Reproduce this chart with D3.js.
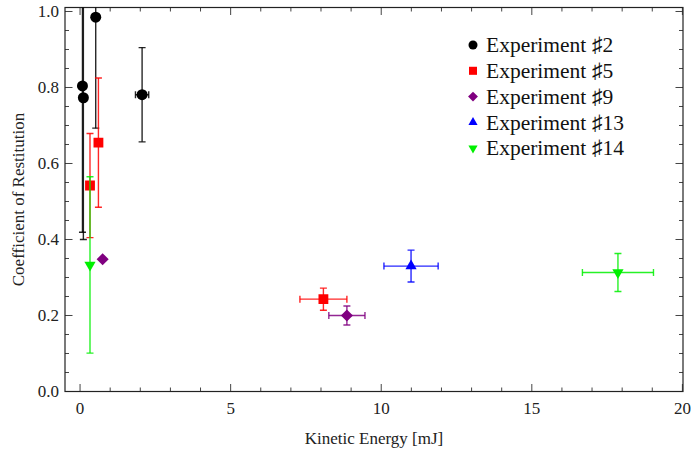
<!DOCTYPE html>
<meta charset="utf-8">
<style>
  body { margin: 0; background: #fff; }
</style>
<body>
<svg width="693" height="449"></svg>

<script src="https://cdn.jsdelivr.net/npm/d3@7"></script>
<script>

// data: [kinetic energy, restitution, error in x, error in y]
var exp2  = [[0.08, 0.804, 0, 0.385], [0.11, 0.773, 0, 0.373], [0.52, 0.985, 0, 0.292], [2.06, 0.781, 0.22, 0.124]];
var exp5  = [[0.33, 0.542, 0, 0.137], [0.61, 0.655, 0, 0.170], [8.08, 0.243, 0.78, 0.029]];
var exp9  = [[0.75, 0.348, 0, 0], [8.86, 0.200, 0.60, 0.025]];
var exp13 = [[10.99, 0.330, 0.90, 0.042]];
var exp14 = [[0.33, 0.333, 0, 0.232], [17.86, 0.313, 1.18, 0.050]];

var seriesNames = ["Experiment \u266F2", "Experiment \u266F5", "Experiment \u266F9", "Experiment \u266F13", "Experiment \u266F14"];
var xTicks = [0, 5, 10, 15, 20];
var yTicks = [0, 0.2, 0.4, 0.6, 0.8, 1.0];

var series = [
  {name: seriesNames[0], data: exp2,  color: "#000000", shape: "circle"},
  {name: seriesNames[1], data: exp5,  color: "#ff0000", shape: "square"},
  {name: seriesNames[2], data: exp9,  color: "#800080", shape: "diamond"},
  {name: seriesNames[3], data: exp13, color: "#0000ff", shape: "up"},
  {name: seriesNames[4], data: exp14, color: "#00f000", shape: "down"}
];

var FONT = "'Liberation Serif', 'Times New Roman', serif";

var svg = d3.select("svg"),
    margin = {top: 7.5, right: 10, bottom: 57.5, left: 65},
    width  = +svg.attr("width") - margin.left - margin.right,
    height = +svg.attr("height") - margin.top - margin.bottom;

var x = d3.scaleLinear().domain([-0.5, 20.02]).range([0, width]),
    y = d3.scaleLinear().domain([0, 1.0105]).range([height, 0]);

var g = svg.append("g")
    .attr("transform", "translate(" + margin.left + "," + margin.top + ")");

svg.append("defs").append("clipPath")
    .attr("id", "clip")
  .append("rect")
    .attr("width", width)
    .attr("height", height);

// frame ticks (inward), minor every 1 / 0.05
var xMinor = d3.range(0, 20.01, 1),
    yMinor = d3.range(0, 1.001, 0.05);

function isMajorX(v) { return Math.abs(v % 5) < 1e-6; }
function isMajorY(v) { return Math.abs(Math.round(v * 100) % 20) < 1e-6; }

var ticks = g.append("g").attr("stroke", "#444").attr("stroke-width", 1);

xMinor.forEach(function(v) {
  var len = isMajorX(v) ? 7.5 : 4;
  ticks.append("line").attr("x1", x(v)).attr("x2", x(v)).attr("y1", height).attr("y2", height - len);
  ticks.append("line").attr("x1", x(v)).attr("x2", x(v)).attr("y1", 0).attr("y2", len);
});
yMinor.forEach(function(v) {
  var len = isMajorY(v) ? 7.5 : 4;
  ticks.append("line").attr("y1", y(v)).attr("y2", y(v)).attr("x1", 0).attr("x2", len);
  ticks.append("line").attr("y1", y(v)).attr("y2", y(v)).attr("x1", width).attr("x2", width - len);
});

// tick labels
g.selectAll(".xlab")
  .data(xTicks)
  .enter().append("text")
    .attr("x", function(d) { return x(d); })
    .attr("y", height + 22)
    .attr("text-anchor", "middle")
    .attr("fill", "#222")
    .style("font-family", FONT)
    .style("font-size", "17px")
    .text(function(d) { return d; });

g.selectAll(".ylab")
  .data(yTicks)
  .enter().append("text")
    .attr("x", -6)
    .attr("y", function(d) { return y(d); })
    .attr("dy", "0.35em")
    .attr("text-anchor", "end")
    .attr("fill", "#222")
    .style("font-family", FONT)
    .style("font-size", "17px")
    .text(function(d) { return d3.format(".1f")(d); });

// frame
g.append("rect")
    .attr("width", width)
    .attr("height", height)
    .attr("fill", "none")
    .attr("stroke", "#222")
    .attr("stroke-width", 1.2);

// axis titles
svg.append("text")
    .attr("x", margin.left + width / 2)
    .attr("y", 443.5)
    .attr("text-anchor", "middle")
    .attr("fill", "#222")
    .style("font-family", FONT)
    .style("font-size", "17px")
    .text("Kinetic Energy [mJ]");

svg.append("text")
    .attr("transform", "translate(24," + (margin.top + height / 2) + ") rotate(-90)")
    .attr("text-anchor", "middle")
    .attr("fill", "#222")
    .style("font-family", FONT)
    .style("font-size", "17px")
    .text("Coefficient of Restitution");

// marker paths
function markerPath(shape, s) {
  if (shape === "circle") return d3.symbol(d3.symbolCircle, Math.PI * s * s / 4)();
  if (shape === "square") return d3.symbol(d3.symbolSquare, s * s * 0.8)();
  if (shape === "diamond") return d3.symbol(d3.symbolSquare, s * s * 0.6)();
  return d3.symbol(d3.symbolTriangle, s * s * 0.45)();
}
function markerRotate(shape) {
  if (shape === "diamond") return " rotate(45)";
  if (shape === "down") return " rotate(180)";
  return "";
}

var plot = g.append("g").attr("clip-path", "url(#clip)");
var cap = 3.5;

series.forEach(function(s) {
  var eb = plot.append("g")
      .attr("stroke", s.color)
      .attr("stroke-opacity", 0.85)
      .attr("stroke-width", 1.4);

  s.data.forEach(function(d) {
    var px = x(d[0]), py = y(d[1]);
    if (d[3] > 0) {
      var y1 = y(d[1] + d[3]), y2 = y(d[1] - d[3]);
      eb.append("line").attr("x1", px).attr("x2", px).attr("y1", y1).attr("y2", y2);
      eb.append("line").attr("x1", px - cap).attr("x2", px + cap).attr("y1", y1).attr("y2", y1);
      eb.append("line").attr("x1", px - cap).attr("x2", px + cap).attr("y1", y2).attr("y2", y2);
    }
    if (d[2] > 0) {
      var x1 = x(d[0] - d[2]), x2 = x(d[0] + d[2]);
      eb.append("line").attr("x1", x1).attr("x2", x2).attr("y1", py).attr("y2", py);
      eb.append("line").attr("x1", x1).attr("x2", x1).attr("y1", py - cap).attr("y2", py + cap);
      eb.append("line").attr("x1", x2).attr("x2", x2).attr("y1", py - cap).attr("y2", py + cap);
    }
  });

  plot.selectAll(null)
    .data(s.data)
    .enter().append("path")
      .attr("d", markerPath(s.shape, 11))
      .attr("transform", function(d) { return "translate(" + x(d[0]) + "," + y(d[1]) + ")" + markerRotate(s.shape); })
      .attr("fill", s.color);
});

// legend
var legend = svg.append("g")
    .attr("transform", "translate(473,45)");

var rows = legend.selectAll("g")
    .data(series)
  .enter().append("g")
    .attr("transform", function(d, i) { return "translate(0," + (i * 25.8) + ")"; });

rows.append("path")
    .attr("d", function(d) { return markerPath(d.shape, 9); })
    .attr("transform", function(d) { return markerRotate(d.shape); })
    .attr("fill", function(d) { return d.color; });

rows.append("text")
    .attr("x", 13)
    .attr("dy", "0.33em")
    .attr("fill", "#111")
    .style("font-family", FONT)
    .style("font-size", "21.5px")
    .text(function(d) { return d.name; });

</script>
</body>
